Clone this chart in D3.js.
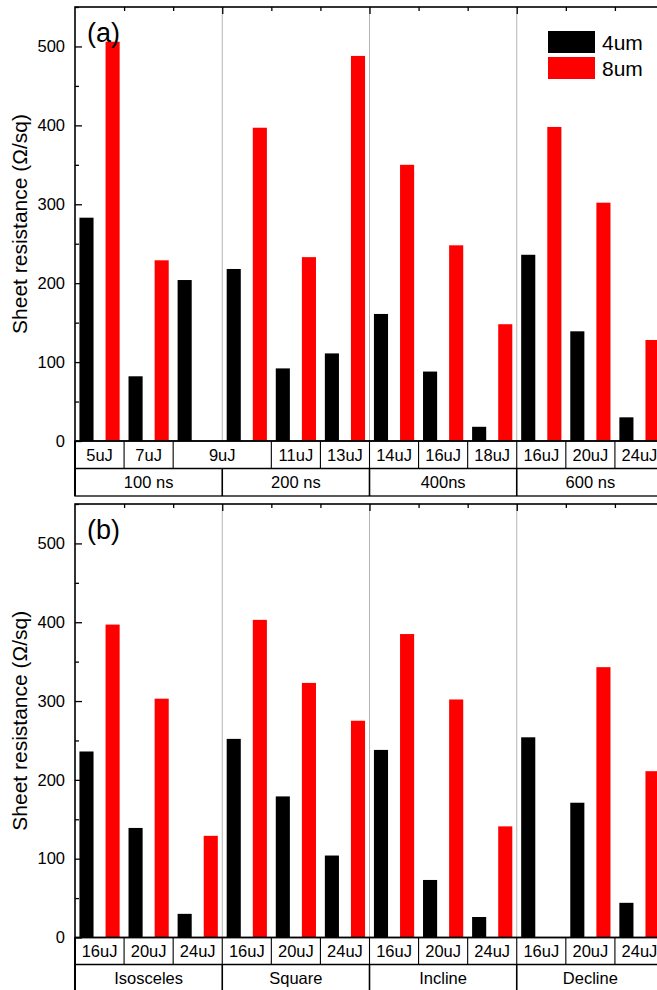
<!DOCTYPE html>
<html>
<head>
<meta charset="utf-8">
<script src="https://cdn.jsdelivr.net/npm/d3@7"></script>
<style>
  html, body { margin: 0; padding: 0; background: #fff; }
  svg { display: block; font-family: "Liberation Sans", Arial, sans-serif; }
</style>
</head>
<body>
<div id="chart"></div>
<script>
// Series
const seriesNames = ["4um", "8um"];
const seriesColors = ["#000000", "#ff0000"];

// Panel (a): pulse energy / pulse width
const energyCellsA = ["5uJ", "7uJ", "9uJ", "11uJ", "13uJ", "14uJ", "16uJ", "18uJ", "16uJ", "20uJ", "24uJ"];
const energySpansA = [1, 1, 2, 1, 1, 1, 1, 1, 1, 1, 1];
const groupsA = ["100 ns", "200 ns", "400ns", "600 ns"];
const values4umA = [283, 82, 204, 218, 92, 111, 161, 88, 18, 236, 139, 30];
const values8umA = [506, 229, null, 397, 233, 488, 350, 248, 148, 398, 302, 128];

// Panel (b): pulse shape
const energyCellsB = ["16uJ", "20uJ", "24uJ", "16uJ", "20uJ", "24uJ", "16uJ", "20uJ", "24uJ", "16uJ", "20uJ", "24uJ"];
const energySpansB = [1, 1, 1, 1, 1, 1, 1, 1, 1, 1, 1, 1];
const groupsB = ["Isosceles", "Square", "Incline", "Decline"];
const values4umB = [236, 139, 30, 252, 179, 104, 238, 73, 26, 254, 171, 44];
const values8umB = [397, 303, 129, 403, 323, 275, 385, 302, 141, null, 343, 211];

const majorTicks = [0, 100, 200, 300, 400, 500];
const minorTicks = [50, 150, 250, 350, 450, 550];
const yTitle = "Sheet resistance (\u03A9/sq)";

const W = 657, H = 990;
const slotCount = 12, slotsPerGroup = 3;
const left = 75, right = 664;

const svg = d3.select("#chart").append("svg")
  .attr("width", W).attr("height", H);

const xEdge = d3.scaleLinear().domain([0, slotCount]).range([left, right]);
const x = d3.scaleBand().domain(d3.range(slotCount)).range([left, right]).padding(0);
const xs = d3.scaleBand().domain(seriesNames).range([0, x.bandwidth()])
  .paddingInner(0.46).paddingOuter(0.17);

function panel(cfg) {
  const g = svg.append("g");
  const top = cfg.top, bottom = cfg.bottom;
  const y = d3.scaleLinear().domain([0, 550]).range([bottom, top]);

  // group separators
  g.selectAll("line.sep").data(d3.range(1, slotCount / slotsPerGroup)).join("line")
    .attr("x1", d => xEdge(d * slotsPerGroup)).attr("x2", d => xEdge(d * slotsPerGroup))
    .attr("y1", top).attr("y2", bottom)
    .attr("stroke", "#b4b4b4").attr("stroke-width", 1);

  // bars
  const rows = [];
  d3.range(slotCount).forEach(i => {
    seriesNames.forEach((s, k) => {
      const v = cfg.values[k][i];
      if (v != null) rows.push({ i, s, k, v });
    });
  });
  g.selectAll("rect.bar").data(rows).join("rect")
    .attr("x", d => x(d.i) + xs(d.s))
    .attr("width", xs.bandwidth())
    .attr("y", d => y(d.v))
    .attr("height", d => y(0) - y(d.v))
    .attr("fill", d => seriesColors[d.k]);

  // left axis (ticks inward)
  const la = g.append("g").attr("transform", `translate(${left},0)`)
    .call(d3.axisLeft(y).tickValues(majorTicks).tickSize(-7).tickPadding(10));
  la.select(".domain").remove();
  la.selectAll("text").attr("font-size", 16.5).attr("fill", "#000")
    .attr("font-family", "'Liberation Sans', Arial, sans-serif");
  la.selectAll("line").attr("stroke-width", 1.3);
  const lm = g.append("g").attr("transform", `translate(${left},0)`)
    .call(d3.axisLeft(y).tickValues(minorTicks).tickSize(-4).tickFormat(""));
  lm.select(".domain").remove();
  lm.selectAll("line").attr("stroke-width", 1.3);

  // right axis (ticks inward)
  const ra = g.append("g").attr("transform", `translate(${right},0)`)
    .call(d3.axisRight(y).tickValues(majorTicks).tickSize(-7).tickFormat(""));
  ra.select(".domain").remove();
  ra.selectAll("line").attr("stroke-width", 1.3);
  const rm = g.append("g").attr("transform", `translate(${right},0)`)
    .call(d3.axisRight(y).tickValues(minorTicks).tickSize(-4).tickFormat(""));
  rm.select(".domain").remove();
  rm.selectAll("line").attr("stroke-width", 1.3);

  // top axis: slot boundaries
  const ta = g.append("g").attr("transform", `translate(0,${top})`)
    .call(d3.axisTop(xEdge).tickValues(d3.range(1, slotCount).filter(d => d % slotsPerGroup !== 0))
      .tickSize(-4).tickFormat(""));
  ta.select(".domain").remove();
  ta.selectAll("line").attr("stroke-width", 1.3);
  const tb = g.append("g").attr("transform", `translate(0,${top})`)
    .call(d3.axisTop(xEdge).tickValues(d3.range(slotsPerGroup, slotCount, slotsPerGroup))
      .tickSize(-7).tickFormat(""));
  tb.select(".domain").remove();
  tb.selectAll("line").attr("stroke-width", 1.3);

  // plot frame
  g.append("rect").attr("x", left).attr("y", top)
    .attr("width", right - left).attr("height", bottom - top)
    .attr("fill", "none").attr("stroke", "#000").attr("stroke-width", 1.6);

  // category table
  const r1 = bottom, r2 = bottom + cfg.rowH, r3 = bottom + 2 * cfg.rowH;
  const t = g.append("g");
  t.append("rect").attr("x", left).attr("y", r1).attr("width", right - left).attr("height", r3 - r1)
    .attr("fill", "none").attr("stroke", "#000").attr("stroke-width", 1.3);
  t.append("line").attr("x1", left).attr("x2", right).attr("y1", r2).attr("y2", r2)
    .attr("stroke", "#000").attr("stroke-width", 1.3);
  t.append("line").attr("x1", left).attr("x2", left).attr("y1", r1).attr("y2", r3)
    .attr("stroke", "#000").attr("stroke-width", 2);

  // energy cells
  const cells = [];
  let pos = 0;
  cfg.cells.forEach((lab, j) => {
    cells.push({ lab, a: pos, b: pos + cfg.spans[j] });
    pos += cfg.spans[j];
  });
  t.selectAll("line.c1").data(cells.slice(1)).join("line")
    .attr("x1", d => xEdge(d.a)).attr("x2", d => xEdge(d.a))
    .attr("y1", r1).attr("y2", r2).attr("stroke", "#000").attr("stroke-width", 1.1);
  t.selectAll("text.c1").data(cells).join("text")
    .attr("x", d => (xEdge(d.a) + xEdge(d.b)) / 2)
    .attr("y", (r1 + r2) / 2 + 6)
    .attr("text-anchor", "middle").attr("font-size", 16.5).text(d => d.lab);

  // group cells
  const groups = cfg.groups.map((lab, j) => ({ lab, a: j * slotsPerGroup, b: (j + 1) * slotsPerGroup }));
  t.selectAll("line.c2").data(groups.slice(1)).join("line")
    .attr("x1", d => xEdge(d.a)).attr("x2", d => xEdge(d.a))
    .attr("y1", r2).attr("y2", r3).attr("stroke", "#000").attr("stroke-width", 1.6);
  t.selectAll("text.c2").data(groups).join("text")
    .attr("x", d => (xEdge(d.a) + xEdge(d.b)) / 2)
    .attr("y", (r2 + r3) / 2 + 6)
    .attr("text-anchor", "middle").attr("font-size", 16.5).text(d => d.lab);

  // y title
  g.append("text")
    .attr("transform", `translate(27,${(top + bottom) / 2}) rotate(-90)`)
    .attr("text-anchor", "middle").attr("font-size", 21).text(yTitle);

  // panel letter
  g.append("text").attr("x", 87).attr("y", top + 35)
    .attr("font-size", 27).text(cfg.letter);

  return { g, y };
}

const pa = panel({
  top: 7, bottom: 441, rowH: 27.5, letter: "(a)",
  values: [values4umA, values8umA],
  cells: energyCellsA, spans: energySpansA, groups: groupsA
});

panel({
  top: 504, bottom: 937.5, rowH: 27, letter: "(b)",
  values: [values4umB, values8umB],
  cells: energyCellsB, spans: energySpansB, groups: groupsB
});

// legend
const lg = pa.g.append("g");
seriesNames.forEach((s, k) => {
  lg.append("rect").attr("x", 548).attr("y", 31 + k * 26)
    .attr("width", 47).attr("height", 22).attr("fill", seriesColors[k]);
  lg.append("text").attr("x", 602).attr("y", 50 + k * 25.5)
    .attr("font-size", 21).text(s);
});
</script>
</body>
</html>
